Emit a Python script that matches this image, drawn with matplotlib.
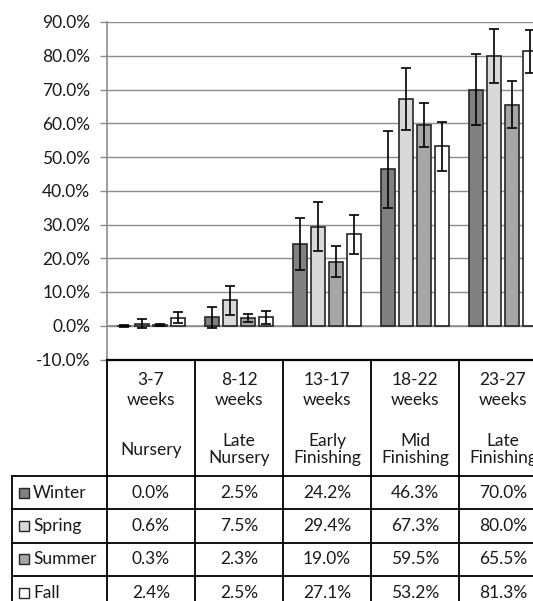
import numpy as np
import matplotlib
matplotlib.use("Agg")
import matplotlib.pyplot as plt
from matplotlib.lines import Line2D
from matplotlib.patches import Rectangle
from matplotlib import transforms

# ---- data ----
weeks = ["3-7\nweeks", "8-12\nweeks", "13-17\nweeks", "18-22\nweeks", "23-27\nweeks"]
stages = ["Nursery", "Late\nNursery", "Early\nFinishing", "Mid\nFinishing", "Late\nFinishing"]
seasons = ["Winter", "Spring", "Summer", "Fall"]
winter = [0.0, 2.5, 24.2, 46.3, 70.0]
spring = [0.6, 7.5, 29.4, 67.3, 80.0]
summer = [0.3, 2.3, 19.0, 59.5, 65.5]
fall = [2.4, 2.5, 27.1, 53.2, 81.3]
winter_err = [0.3, 3.1, 7.8, 11.5, 10.5]
spring_err = [1.4, 4.3, 7.3, 9.2, 8.0]
summer_err = [0.3, 1.3, 4.6, 6.6, 6.9]
fall_err = [1.6, 2.0, 5.8, 7.3, 6.4]
yticks = [-10, 0, 10, 20, 30, 40, 50, 60, 70, 80, 90]

series = [winter, spring, summer, fall]
errs = [winter_err, spring_err, summer_err, fall_err]
colors = ["#808080", "#d9d9d9", "#a6a6a6", "#ffffff"]

W, H = 533, 601
plt.rcParams['font.family'] = ['Lato', 'DejaVu Sans']
txtc = "#1a1a1a"
fs = 12.5

fig = plt.figure(figsize=(W / 100, H / 100), dpi=100)
ax = fig.add_axes([107 / W, 1 - 359.5 / H, 440 / W, (359.5 - 22) / H])

x = np.arange(len(weeks))
bw = 0.16
pitch = 0.2045
for i, (vals, e, c) in enumerate(zip(series, errs, colors)):
    xo = x + (i - 1.5) * pitch
    ax.bar(xo, vals, width=bw, color=c, edgecolor="#262626", linewidth=1.2, zorder=2)
    ax.errorbar(xo, vals, yerr=e, fmt='none', ecolor='black', elinewidth=1.2,
                capsize=3.5, capthick=1.2, zorder=3)

ax.set_xlim(-0.5, len(weeks) - 0.5)
ax.set_ylim(-10, 90)
ax.set_yticks(yticks)
ax.set_yticklabels([f"{v:.1f}%" for v in yticks], fontsize=fs, color=txtc)
ax.set_xticks([])
ax.grid(axis='y', color="#8c8c8c", linewidth=1.0)
ax.set_axisbelow(True)
ax.axhline(0, color="#8c8c8c", linewidth=1.2, zorder=1)
for s in ["top", "right", "bottom"]:
    ax.spines[s].set_visible(False)
ax.spines["left"].set_color("#8c8c8c")
ax.spines["left"].set_linewidth(1.2)
ax.tick_params(axis='y', length=5, width=1.0, color="#8c8c8c", pad=7)

# ---- data table ----
T = transforms.Affine2D().scale(1 / W, -1 / H).translate(0, 1) + fig.transFigure
B = transforms.blended_transform_factory(ax.transData, T)

xl, xr = -0.5, len(weeks) - 0.5
top_y, head_y = 360, 476
row_h = 33.3
rows_y = [head_y + k * row_h for k in range(len(seasons) + 1)]

def fline(xs, ys, tr, lw=1.3):
    fig.add_artist(Line2D(xs, ys, transform=tr, color="black", linewidth=lw, clip_on=False))

fline([xl, xr + 1], [top_y, top_y], B, lw=1.6)
for k in range(len(weeks) + 1):
    fline([xl + k, xl + k], [top_y, rows_y[-1]], B, lw=1.3)
for yy in rows_y[:-1]:
    fline([12, W + 20], [yy, yy], T, lw=1.3)
fline([12, 12], [head_y, rows_y[-1]], T, lw=1.3)

for i in range(len(weeks)):
    fig.text(x[i], 390, weeks[i], transform=B, ha='center', va='center',
             fontsize=fs, color=txtc, linespacing=1.3)
    fig.text(x[i], 449.5, stages[i], transform=B, ha='center', va='center',
             fontsize=fs, color=txtc, linespacing=1.1)

for r, (name, vals, c) in enumerate(zip(seasons, series, colors)):
    yc = rows_y[r] + row_h / 2
    fig.add_artist(Rectangle((19, yc - 5), 10, 10, transform=T, facecolor=c,
                             edgecolor="#262626", linewidth=1.0, clip_on=False))
    fig.text(33, yc, name, transform=T, ha='left', va='center', fontsize=fs, color=txtc)
    for i in range(len(weeks)):
        fig.text(x[i], yc, f"{vals[i]:.1f}%", transform=B, ha='center', va='center',
                 fontsize=fs, color=txtc)

fig.savefig("out.png", dpi=100)
